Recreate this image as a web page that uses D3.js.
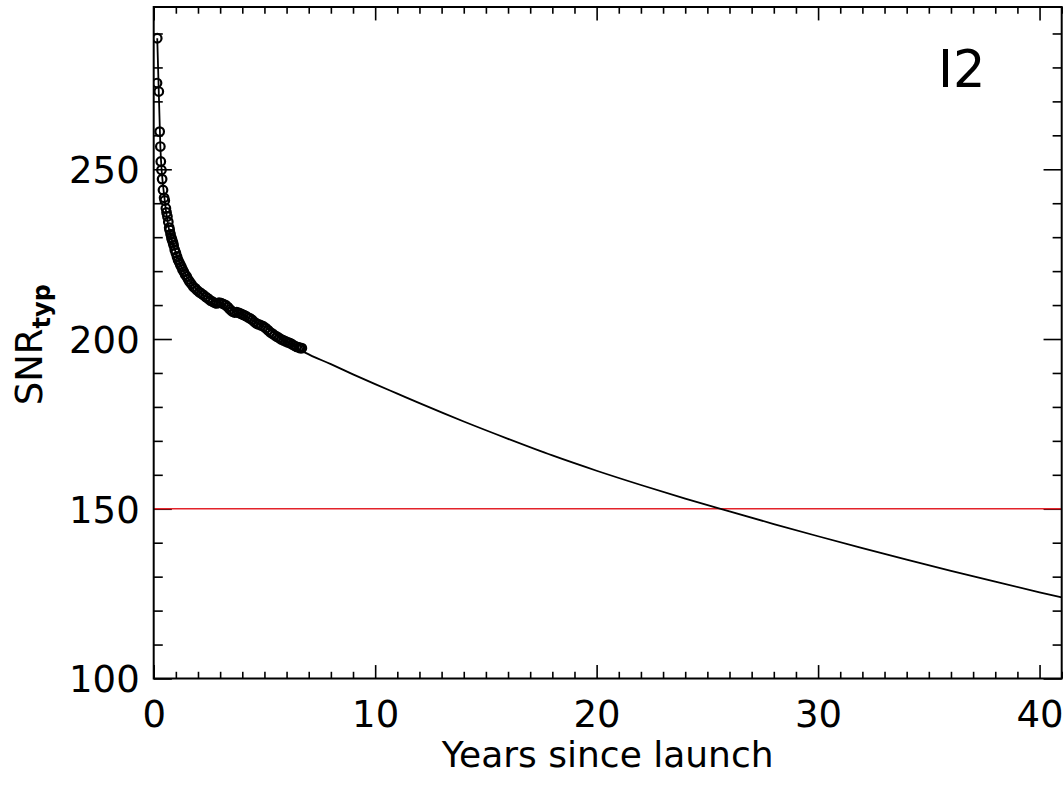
<!DOCTYPE html>
<html>
<head>
<meta charset="utf-8">
<script src="https://cdn.jsdelivr.net/npm/d3@7"></script>
<style>
  html, body { margin: 0; padding: 0; background: #fff; }
  svg text { font-family: "DejaVu Sans", sans-serif; fill: #000; }
</style>
</head>
<body>
<svg id="chart" width="1063" height="785"></svg>
<script>
// Measured SNR samples (years since launch, typical SNR)
const obsYears = [0.16,0.15,0.23,0.27,0.30,0.32,0.35,0.38,0.42,0.47,0.50,0.55,0.58,0.62,0.66,0.70,0.72,0.76,0.80,0.83,0.87,0.90,0.95,1.00,1.05,1.10,1.15,1.20,1.25,1.30,1.36,1.42,1.49,1.55,1.62,1.70,1.79,1.88,1.97,2.06,2.15,2.24,2.35,2.46,2.57,2.68,2.78,2.85,2.95,3.05,3.15,3.25,3.35,3.45,3.55,3.65,3.75,3.85,3.95,4.05,4.15,4.25,4.35,4.45,4.55,4.65,4.75,4.85,4.96,5.06,5.16,5.26,5.36,5.46,5.56,5.66,5.76,5.86,5.96,6.06,6.16,6.26,6.36,6.46,6.56,6.62,6.69];
const obsSNR = [288.6,275.4,272.9,261.1,256.7,252.3,249.8,247.1,243.9,241.6,240.8,238.5,237.3,236.1,234.5,232.8,232.1,230.9,229.8,229.2,228.4,227.6,226.3,225.4,224.3,223.3,222.6,221.9,221.3,220.5,219.8,219.0,218.4,217.6,216.9,216.2,215.4,214.9,214.3,213.8,213.4,213.0,212.4,211.9,211.3,210.9,210.6,210.5,210.7,210.6,210.3,210.0,209.4,208.7,208.1,207.8,207.9,207.7,207.4,207.1,206.8,206.4,206.1,205.6,205.0,204.5,204.3,204.0,203.7,203.2,202.6,202.0,201.6,201.1,200.7,200.3,199.9,199.6,199.3,199.0,198.8,198.4,198.0,197.7,197.5,197.3,197.3];

// Fitted trend, extrapolated to 41 years
const fitYears = [0.16,0.30,0.50,1.00,1.50,2.00,3.00,4.00,5.00,6.00,6.84,8,9,10,11,12,14,16,18,20,22,24,26,28,30,32,34,36,38,40,41];
const fitSNR   = [288.6,256.7,240.8,225.4,218.3,214.2,210.6,207.2,203.6,199.3,196.0,192.6,189.6,186.7,183.9,181.1,175.7,170.6,165.7,161.2,157.0,153.0,149.2,145.5,141.9,138.4,135.0,131.7,128.5,125.4,123.9];

// Requirement threshold
const thresholdSNR = 150;

const xDomain = [0, 41];
const yDomain = [100, 297.8];
const xMajorTicks = [0, 10, 20, 30, 40];
const yMajorTicks = [100, 150, 200, 250];
const panelLabel = "I2";
const xTitle = "Years since launch";

const svg = d3.select("#chart");
const pL = 153.7, pR = 1061.7, pT = 7, pB = 678.5;

const x = d3.scaleLinear().domain(xDomain).range([pL, pR]);
const y = d3.scaleLinear().domain(yDomain).range([pB, pT]);

const xMinor = d3.range(0, 42, 1).filter(v => v % 10 !== 0);
const yMinor = d3.range(100, 300, 10).filter(v => v % 50 !== 0);

const plotH = pB - pT, plotW = pR - pL;
const xMajLen = 0.02 * plotH, xMinLen = 0.01 * plotH;
const yMajLen = 0.02 * plotW, yMinLen = 0.01 * plotW;

const tickStyle = g => g.selectAll("line").attr("stroke", "#000").attr("stroke-width", 1.6);

// Bottom axis
const gB = svg.append("g").attr("transform", `translate(0,${pB})`);
gB.call(d3.axisBottom(x).tickValues(xMajorTicks).tickSize(-xMajLen).tickFormat(d3.format("d")));
gB.append("g").call(d3.axisBottom(x).tickValues(xMinor).tickSize(-xMinLen).tickFormat(""));
// Top axis
const gT = svg.append("g").attr("transform", `translate(0,${pT})`);
gT.call(d3.axisTop(x).tickValues(xMajorTicks).tickSize(-xMajLen).tickFormat(""));
gT.append("g").call(d3.axisTop(x).tickValues(xMinor).tickSize(-xMinLen).tickFormat(""));
// Left axis
const gL = svg.append("g").attr("transform", `translate(${pL},0)`);
gL.call(d3.axisLeft(y).tickValues(yMajorTicks).tickSize(-yMajLen).tickFormat(d3.format("d")));
gL.append("g").call(d3.axisLeft(y).tickValues(yMinor).tickSize(-yMinLen).tickFormat(""));
// Right axis
const gR = svg.append("g").attr("transform", `translate(${pR},0)`);
gR.call(d3.axisRight(y).tickValues(yMajorTicks).tickSize(-yMajLen).tickFormat(""));
gR.append("g").call(d3.axisRight(y).tickValues(yMinor).tickSize(-yMinLen).tickFormat(""));

svg.selectAll(".domain").remove();
[gB, gT, gL, gR].forEach(g => tickStyle(g));
svg.selectAll(".tick text").attr("font-size", 37).attr("font-family", "DejaVu Sans, sans-serif").attr("fill", "#000");
gB.selectAll(".tick text").attr("y", 22).attr("dy", "0.71em");
gL.selectAll(".tick text").attr("x", -14).attr("dy", "0.36em");

// Clip for data inside the frame
svg.append("clipPath").attr("id", "plotClip")
  .append("rect").attr("x", pL).attr("y", pT).attr("width", plotW).attr("height", plotH);

const plot = svg.append("g").attr("clip-path", "url(#plotClip)");

// Threshold line
plot.append("line")
  .attr("x1", x(xDomain[0])).attr("x2", x(xDomain[1]))
  .attr("y1", y(thresholdSNR)).attr("y2", y(thresholdSNR))
  .attr("stroke", "#e3232a").attr("stroke-width", 1.6);

// Fit curve
const fitData = fitYears.map((t, i) => [t, fitSNR[i]]);
plot.append("path").datum(fitData)
  .attr("fill", "none").attr("stroke", "#000").attr("stroke-width", 1.8)
  .attr("d", d3.line().x(d => x(d[0])).y(d => y(d[1])).curve(d3.curveMonotoneX));

// Measured points
const obs = obsYears.map((t, i) => [t, obsSNR[i]]);
plot.selectAll("circle.obs").data(obs).enter().append("circle")
  .attr("class", "obs")
  .attr("cx", d => x(d[0])).attr("cy", d => y(d[1])).attr("r", 4.3)
  .attr("fill", "none").attr("stroke", "#000").attr("stroke-width", 2.2);

// Frame
svg.append("rect").attr("x", pL).attr("y", pT).attr("width", plotW).attr("height", plotH)
  .attr("fill", "none").attr("stroke", "#000").attr("stroke-width", 2);

// Panel label
svg.append("text").attr("x", 938).attr("y", 87).attr("font-size", 51).text(panelLabel);

// Axis titles
svg.append("text").attr("x", (pL + pR) / 2).attr("y", 767)
  .attr("text-anchor", "middle").attr("font-size", 36).text(xTitle);

const yt = svg.append("text")
  .attr("transform", `translate(42,${(pT + pB) / 2 + 2}) rotate(-90)`)
  .attr("text-anchor", "middle").attr("font-size", 37);
yt.append("tspan").text("SNR");
yt.append("tspan").attr("font-size", 24).attr("font-weight", "bold").attr("dy", 8).text("typ");
</script>
</body>
</html>
